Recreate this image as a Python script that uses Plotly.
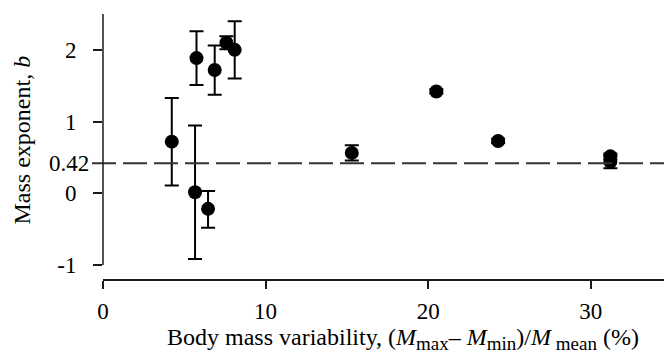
import plotly.graph_objects as go

# Data
variability = [4.23, 5.75, 6.87, 7.59, 8.10, 5.66, 6.46, 15.3, 20.5, 24.3, 31.2, 31.2]
mass_exponent = [0.72, 1.885, 1.72, 2.10, 2.00, 0.014, -0.217, 0.563, 1.42, 0.73, 0.515, 0.44]
err_up = [0.61, 0.375, 0.34, 0.09, 0.40, 0.93, 0.25, 0.106, 0.03, 0.03, 0.04, 0.09]
err_down = [0.61, 0.375, 0.345, 0.09, 0.40, 0.93, 0.265, 0.106, 0.03, 0.03, 0.04, 0.09]

reference_b = 0.42
reference_label = "0.42"
x_ticks = [0, 10, 20, 30]
x_ticktext = ["0", "10", "20", "30"]
y_ticks = [-1, 0, 1, 2]
y_ticktext = ["-1", "0", "1", "2"]

FONT = "Liberation Serif"
INK = "#1a1a1a"


def sub(t):
    return '<sub><span style="font-size:19px">' + t + '</span></sub>'


x_title = ("Body mass variability, (<i>M</i>" + sub("max") + "\u2013 <i>M</i>" + sub("min")
           + ")/<i>M</i>" + sub(" mean") + " (%)")

fig = go.Figure()
fig.add_trace(go.Scatter(
    x=variability, y=mass_exponent, mode="markers",
    marker=dict(color="black", size=14, line=dict(width=0)),
    error_y=dict(type="data", symmetric=False, array=err_up, arrayminus=err_down,
                 color="black", thickness=2, width=7),
    cliponaxis=False, showlegend=False,
))

# dashed reference line
fig.add_shape(type="line", xref="paper", yref="y", x0=-0.0196, x1=1,
              y0=reference_b, y1=reference_b,
              line=dict(color="#333333", width=2, dash="24px,7px"))
# y axis line from -1 to top
fig.add_shape(type="line", xref="paper", yref="y", x0=0, x1=0, y0=-1, y1=2.5,
              line=dict(color=INK, width=1.5))

fig.add_annotation(xref="paper", yref="y", x=0, y=reference_b, text=reference_label,
                   showarrow=False, xanchor="right", yanchor="middle", xshift=-12,
                   font=dict(family=FONT, size=23, color="black"))

fig.add_annotation(xref="paper", yref="paper", x=0.5, y=0, yshift=-60, xshift=19,
                   text=x_title,
                   showarrow=False, xanchor="center", yanchor="middle",
                   font=dict(family=FONT, size=24, color="black"))
fig.add_annotation(xref="paper", yref="paper", x=0, xshift=-82, y=0.5, yshift=6,
                   text="Mass exponent, <i>b</i>", textangle=-90,
                   showarrow=False, xanchor="center", yanchor="middle",
                   font=dict(family=FONT, size=24, color="black"))

fig.update_layout(
    width=664, height=357,
    margin=dict(l=103, r=0, t=14, b=78),
    paper_bgcolor="white", plot_bgcolor="white",
    font=dict(family=FONT, size=23, color="black"),
    xaxis=dict(range=[0, 34.5], tickvals=x_ticks, ticktext=x_ticktext,
               showgrid=False, zeroline=False, showline=True, linecolor=INK, linewidth=1.5,
               ticks="outside", ticklen=8, tickwidth=1.5, tickcolor=INK,
               ticklabelstandoff=3),
    yaxis=dict(range=[-1.195, 2.5], tickvals=y_ticks, ticktext=y_ticktext,
               showgrid=False, zeroline=False, showline=False,
               ticks="outside", ticklen=9, tickwidth=1.5, tickcolor=INK,
               ticklabelstandoff=12),
)

fig.write_html("out.html")
